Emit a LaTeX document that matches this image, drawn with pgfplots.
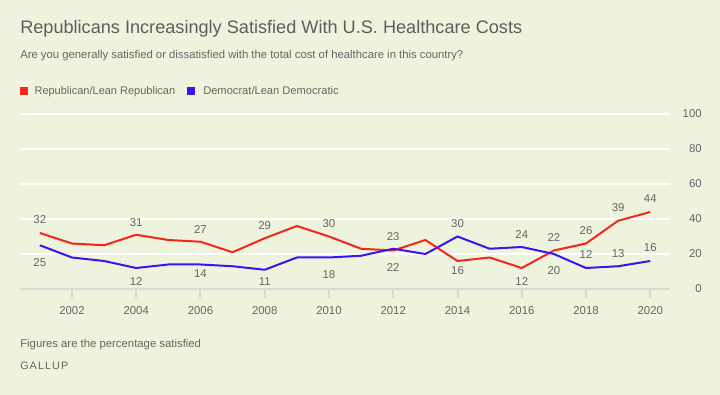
\documentclass[border=0pt]{standalone}
\usepackage{pgfplots}
\pgfplotsset{compat=1.18}
\usepackage{pgfplotstable}
\usepackage{fontspec}
\setmainfont{Liberation Sans}
\definecolor{bg}{HTML}{EDF3DC}
\definecolor{rep}{HTML}{F2261A}
\definecolor{dem}{HTML}{3A14F5}
\definecolor{txt}{HTML}{666666}
\definecolor{ttl}{HTML}{5E5E5E}
\definecolor{axgray}{HTML}{DADBD6}

\pgfplotstableread{
year rep dem
2001 32 25
2002 26 18
2003 25 16
2004 31 12
2005 28 14
2006 27 14
2007 21 13
2008 29 11
2009 36 18
2010 30 18
2011 23 19
2012 22 23
2013 28 20
2014 16 30
2015 18 23
2016 12 24
2017 22 20
2018 26 12
2019 39 13
2020 44 16
}\data

% label shifts in pt (positive = up)
\pgfplotstableread{
year val sh
2001 32 9.75
2004 31 9.375
2006 27 9.375
2008 29 9.75
2010 30 9.375
2012 22 -12.75
2014 16 -7.5
2016 12 -10.5
2017 22 9.75
2018 26 9.375
2019 39 9.75
2020 44 9.75
}\replab

\pgfplotstableread{
year val sh
2001 25 -12.75
2004 12 -10.5
2006 14 -7.125
2008 11 -8.625
2010 18 -13.125
2012 23 9.375
2014 30 9.375
2016 24 9.375
2017 20 -12.75
2018 12 9.75
2019 13 9.75
2020 16 9.75
}\demlab

\begin{document}
\begin{tikzpicture}[x=0.75pt,y=0.75pt]
\useasboundingbox (0,0) rectangle (720,395);
\fill[bg] (0,0) rectangle (720,395);
\node[anchor=base west, inner sep=0pt, text=ttl, font=\fontsize{13.6pt}{16pt}\selectfont] at (20,361) {Republicans Increasingly Satisfied With U.S. Healthcare Costs};
\node[anchor=base west, inner sep=0pt, text=txt, font=\fontsize{8.48pt}{10pt}\selectfont] at (20,336.3) {Are you generally satisfied or dissatisfied with the total cost of healthcare in this country?};
\fill[rep] (20,300) rectangle (28,308);
\node[anchor=base west, inner sep=0pt, text=txt, font=\fontsize{8.25pt}{10pt}\selectfont] at (34.3,300.7) {Republican/Lean Republican};
\fill[dem] (187,300) rectangle (195,308);
\node[anchor=base west, inner sep=0pt, text=txt, font=\fontsize{8.35pt}{10pt}\selectfont] at (203,300.7) {Democrat/Lean Democratic};
\node[anchor=base west, inner sep=0pt, text=txt, font=\fontsize{8.5pt}{10pt}\selectfont] at (20,47) {Figures are the percentage satisfied};
\node[anchor=base west, inner sep=0pt, text=txt, font=\addfontfeature{LetterSpace=10}\fontsize{8.1pt}{10pt}\selectfont] at (20,25) {GALLUP};

\begin{axis}[
  at={(15pt,79.5pt)}, anchor=south west,
  scale only axis, width=487.5pt, height=131.25pt,
  xmin=2000.383, xmax=2020.614, ymin=0, ymax=100,
  clip=false,
  axis x line*=bottom, axis y line*=right,
  x axis line style={draw=axgray, line width=1.5pt, -},
  y axis line style={draw=none},
  xtick={2002,2004,...,2020},
  xtick style={draw=axgray, line width=1.5pt},
  tick align=outside, major tick length=6.75pt,
  ytick={0,20,...,100}, ytick style={draw=none},
  ymajorgrids, grid style={white, line width=1.5pt},
  yticklabel pos=right,
  /pgf/number format/1000 sep={},
  /pgf/number format/assume math mode=true,
  xticklabel style={font=\fontsize{8.55pt}{10pt}\selectfont, text=txt, yshift=-3pt},
  yticklabel style={font=\fontsize{8.55pt}{10pt}\selectfont, text=txt, anchor=east, inner sep=0pt, xshift=17.25pt},
]
\addplot[rep, line width=1.5pt, line join=round, mark=none] table[x=year, y=rep] {\data};
\addplot[dem, line width=1.5pt, line join=round, mark=none] table[x=year, y=dem] {\data};
\addplot[draw=none, mark=none, nodes near coords, nodes near coords align=center,
  visualization depends on={\thisrow{sh} \as \sh},
  every node near coord/.append style={font=\fontsize{8.55pt}{10pt}\selectfont, text=txt, anchor=center, yshift=\sh pt, /pgf/number format/assume math mode=true}]
  table[x=year, y=val] {\replab};
\addplot[draw=none, mark=none, nodes near coords, nodes near coords align=center,
  visualization depends on={\thisrow{sh} \as \sh},
  every node near coord/.append style={font=\fontsize{8.55pt}{10pt}\selectfont, text=txt, anchor=center, yshift=\sh pt, /pgf/number format/assume math mode=true}]
  table[x=year, y=val] {\demlab};
\end{axis}
\end{tikzpicture}
\end{document}
